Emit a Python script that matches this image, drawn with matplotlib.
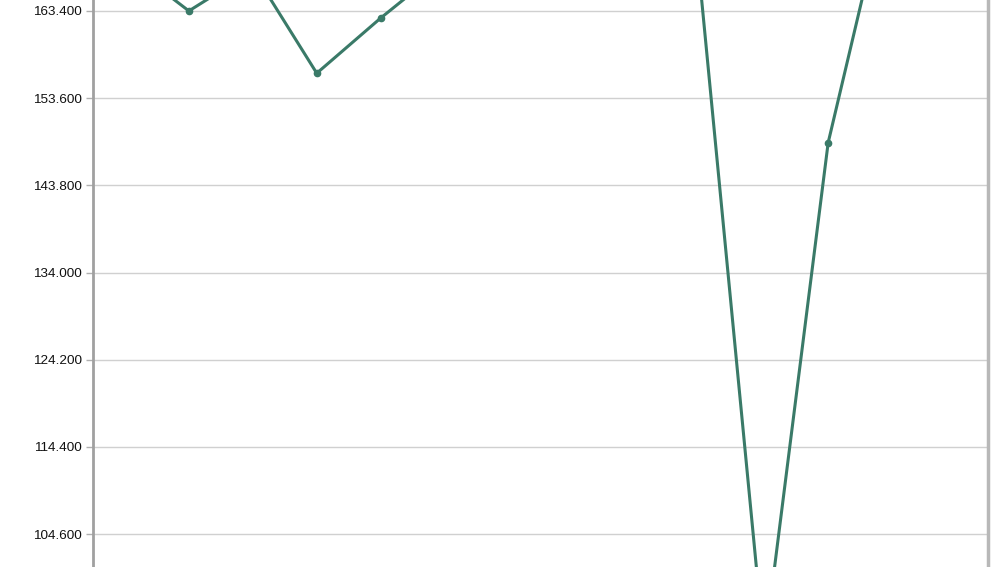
import numpy as np
import matplotlib
matplotlib.use('Agg')
import matplotlib.pyplot as plt

# values (points off-screen are estimated)
categories = list(range(1, 15))
values = [168.9, 163.4, 167.9, 156.4, 162.6, 168.4, 171.0, 172.5, 170.5,
          166.2, 91.7, 148.6, 179.0, 175.0]
y_ticks = [104.6, 114.4, 124.2, 134.0, 143.8, 153.6, 163.4]

line_color = '#3a7a68'

fig = plt.figure(figsize=(10, 5.67), dpi=100)
ax = fig.add_axes([0.093, 0.0, 0.895, 1.0])

x = np.arange(len(categories))
ax.plot(x, values, color=line_color, linewidth=2.2, marker='o', markersize=4.5,
        markerfacecolor=line_color, markeredgecolor=line_color, zorder=3)

ax.set_xlim(-0.5, len(categories) - 0.5)
ax.set_ylim(100.9, 164.63)

ax.set_yticks(y_ticks)
ax.set_yticklabels(['{:.3f}'.format(v) for v in y_ticks])
ax.set_xticks([])
ax.grid(axis='y', color='#d0d0d0', linewidth=1)
ax.set_axisbelow(True)

ax.tick_params(axis='y', length=5, width=1, color='#b0b0b0', labelsize=9.7,
               labelcolor='#111111', pad=3)
for lbl in ax.get_yticklabels():
    lbl.set_family(['Liberation Sans', 'DejaVu Sans'])

ax.spines['top'].set_visible(False)
ax.spines['bottom'].set_visible(False)
ax.spines['left'].set_color('#a0a0a0')
ax.spines['left'].set_linewidth(2)
ax.spines['right'].set_color('#b8b8b8')
ax.spines['right'].set_linewidth(2.5)

fig.savefig('out.png', dpi=100)
